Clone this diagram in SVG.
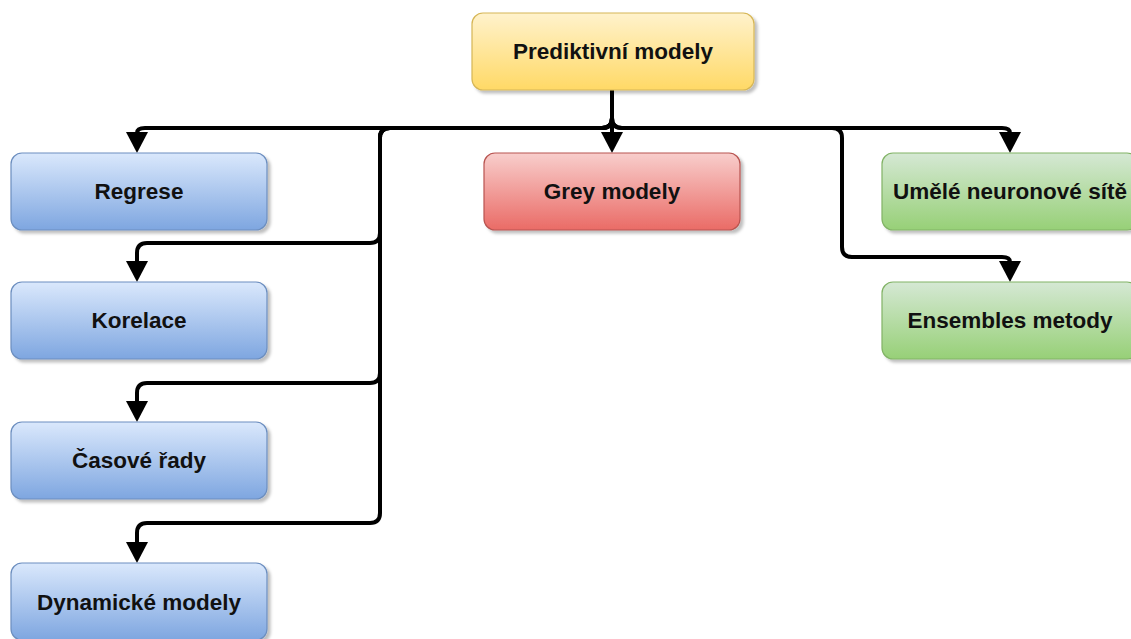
<svg xmlns="http://www.w3.org/2000/svg" width="1131" height="639" viewBox="0 0 1131 639">
<style>
.box{stroke-width:1.2}
.lbl{font-family:"Liberation Sans",Arial,sans-serif;font-weight:bold;font-size:22.5px;fill:#111;text-anchor:middle}
.edge{fill:none;stroke:#000;stroke-width:4;stroke-linejoin:round}
</style>
<defs>
<linearGradient id="gY" x1="0" y1="0" x2="0" y2="1"><stop offset="0" stop-color="#fff2cc"/><stop offset="1" stop-color="#ffd966"/></linearGradient>
<linearGradient id="gB" x1="0" y1="0" x2="0" y2="1"><stop offset="0" stop-color="#dae8fc"/><stop offset="1" stop-color="#7ea6e0"/></linearGradient>
<linearGradient id="gR" x1="0" y1="0" x2="0" y2="1"><stop offset="0" stop-color="#f8cecc"/><stop offset="1" stop-color="#ea6b66"/></linearGradient>
<linearGradient id="gG" x1="0" y1="0" x2="0" y2="1"><stop offset="0" stop-color="#d5e8d4"/><stop offset="1" stop-color="#97d077"/></linearGradient>
<filter id="sh" x="-10%" y="-10%" width="130%" height="140%"><feDropShadow dx="3" dy="3" stdDeviation="1.5" flood-color="#000" flood-opacity="0.25"/></filter>
<marker id="arr" viewBox="0 0 21 22" refX="1" refY="11" markerWidth="21" markerHeight="22" markerUnits="userSpaceOnUse" orient="auto"><path d="M0,0 L21,11 L0,22 Z" fill="#000"/></marker>
</defs>
<g id="connectors">
<path class="edge" marker-end="url(#arr)" d="M612,90 V118 Q612,128 602,128 H145 Q137,128 137,133"/>
<path class="edge" marker-end="url(#arr)" d="M612,90 V118 Q612,128 602,128 H390 Q380,128 380,138 V233 Q380,243 370,243 H147 Q137,243 137,253 V262"/>
<path class="edge" marker-end="url(#arr)" d="M612,90 V118 Q612,128 602,128 H390 Q380,128 380,138 V373 Q380,383 370,383 H147 Q137,383 137,393 V402"/>
<path class="edge" marker-end="url(#arr)" d="M612,90 V118 Q612,128 602,128 H390 Q380,128 380,138 V513 Q380,523 370,523 H147 Q137,523 137,533 V543"/>
<path class="edge" marker-end="url(#arr)" d="M612,90 V133"/>
<path class="edge" marker-end="url(#arr)" d="M612,90 V118 Q612,128 622,128 H1002 Q1010,128 1010,133"/>
<path class="edge" marker-end="url(#arr)" d="M612,90 V118 Q612,128 622,128 H832 Q842,128 842,138 V247 Q842,257 852,257 H1002 Q1010,257 1010,262"/>
</g>
<g id="n-prediktivni"><rect class="box" x="472" y="13" width="282" height="77" rx="11" fill="url(#gY)" stroke="#d6b656" filter="url(#sh)"/><text class="lbl" x="613" y="59">Prediktivní modely</text></g>
<g id="n-regrese"><rect class="box" x="11" y="153" width="256" height="77" rx="11" fill="url(#gB)" stroke="#6c8ebf" filter="url(#sh)"/><text class="lbl" x="139" y="199">Regrese</text></g>
<g id="n-korelace"><rect class="box" x="11" y="282" width="256" height="77" rx="11" fill="url(#gB)" stroke="#6c8ebf" filter="url(#sh)"/><text class="lbl" x="139" y="328">Korelace</text></g>
<g id="n-casove"><rect class="box" x="11" y="422" width="256" height="77" rx="11" fill="url(#gB)" stroke="#6c8ebf" filter="url(#sh)"/><text class="lbl" x="139" y="468">Časové řady</text></g>
<g id="n-dynamicke"><rect class="box" x="11" y="563" width="256" height="77" rx="11" fill="url(#gB)" stroke="#6c8ebf" filter="url(#sh)"/><text class="lbl" x="139" y="610">Dynamické modely</text></g>
<g id="n-grey"><rect class="box" x="484" y="153" width="256" height="77" rx="11" fill="url(#gR)" stroke="#b85450" filter="url(#sh)"/><text class="lbl" x="612" y="199">Grey modely</text></g>
<g id="n-umele"><rect class="box" x="882" y="153" width="256" height="77" rx="11" fill="url(#gG)" stroke="#82b366" filter="url(#sh)"/><text class="lbl" x="1010" y="199">Umělé neuronové sítě</text></g>
<g id="n-ensembles"><rect class="box" x="882" y="282" width="256" height="77" rx="11" fill="url(#gG)" stroke="#82b366" filter="url(#sh)"/><text class="lbl" x="1010" y="328">Ensembles metody</text></g>
</svg>
